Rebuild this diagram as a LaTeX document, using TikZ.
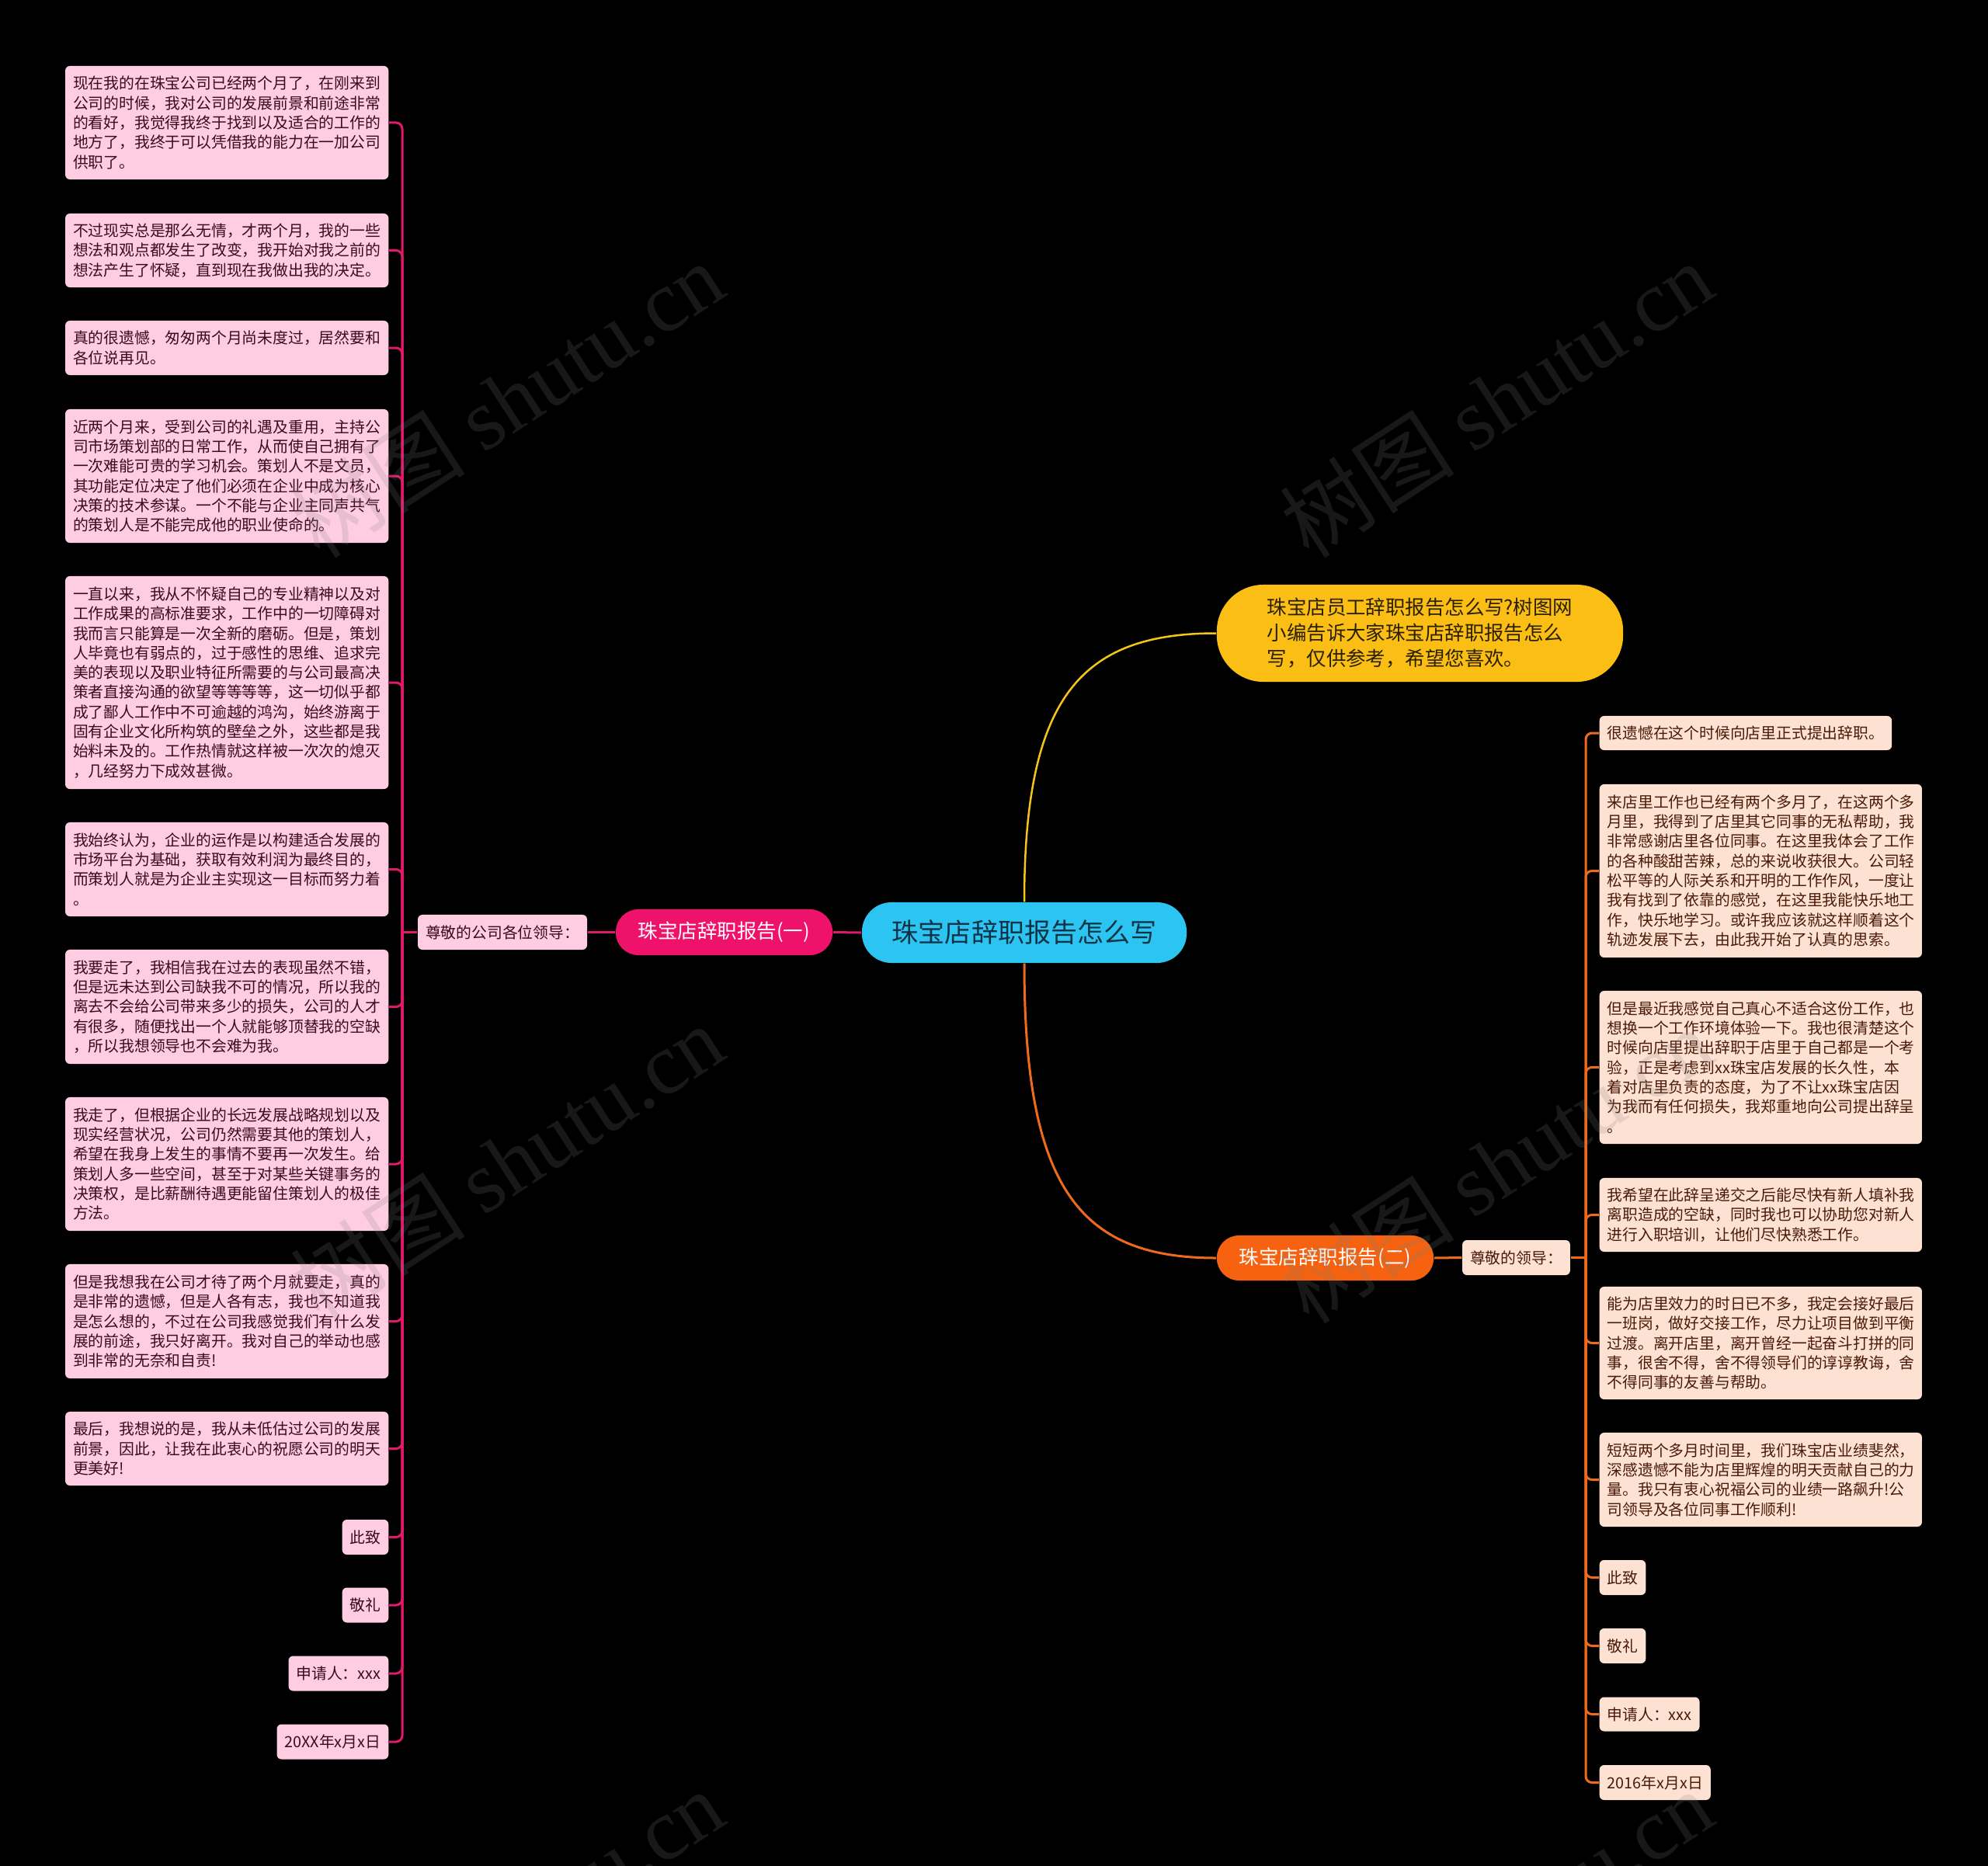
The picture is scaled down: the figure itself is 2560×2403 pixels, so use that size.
\documentclass[tikz,border=0pt]{standalone}
\usepackage{fontspec}
\setmainfont{Noto Sans CJK SC}
\newfontfamily\wmlatin{Liberation Serif}
\definecolor{cyanC}{HTML}{2CC4F0}
\definecolor{cyanT}{HTML}{0F3347}
\definecolor{pinkB}{HTML}{EE126B}
\definecolor{pinkL}{HTML}{FFCDE1}
\definecolor{pinkT}{HTML}{3A0A1F}
\definecolor{pinkLine}{HTML}{E2196B}
\definecolor{yelB}{HTML}{FBBE14}
\definecolor{yelT}{HTML}{2A2000}
\definecolor{yelLine}{HTML}{F5C518}
\definecolor{orB}{HTML}{F6620F}
\definecolor{orL}{HTML}{FDE1D2}
\definecolor{orT}{HTML}{4A1A08}
\definecolor{orLine}{HTML}{EE6A1C}
\newcommand\lffont{\fontsize{5.63pt}{7.2pt}\selectfont}
\tikzset{
  leafL/.style={fill=pinkL, text=pinkT, rounded corners=0.06cm, inner xsep=0.1cm, inner ysep=0.03cm, font=\lffont, anchor=east},
  wideL/.style={leafL, text width=3.96cm, align=left},
  leafR/.style={fill=orL, text=orT, rounded corners=0.06cm, inner xsep=0.1cm, inner ysep=0.03cm, font=\lffont, anchor=west},
  wideR/.style={leafR, text width=3.95cm, align=left},
  lline/.style={draw=pinkLine, line width=0.03cm},
  rline/.style={draw=orLine, line width=0.03cm},
  wm/.style={rotate=33, text=gray, opacity=0.19, font=\fontsize{32pt}{32pt}\selectfont},
}
\begin{document}
\begin{tikzpicture}[x=0.01cm,y=-0.01cm]
\useasboundingbox (0,0) rectangle (2560,2403);
\fill[black] (0,0) rectangle (2560,2403);

% main nodes
\node[fill=cyanC, text=cyanT, rounded corners=0.38cm, minimum width=4.18cm, minimum height=0.78cm, inner sep=0pt, font=\fontsize{9.67pt}{11pt}\selectfont] (center) at (1319,1201) {珠宝店辞职报告怎么写};
\node[fill=pinkB, text=white, rounded corners=0.29cm, minimum width=2.79cm, minimum height=0.59cm, inner sep=0pt, font=\fontsize{7.25pt}{9pt}\selectfont] (b1) at (932.5,1200.5) {珠宝店辞职报告(一)};
\node[fill=orB, text=white, rounded corners=0.285cm, minimum width=2.79cm, minimum height=0.58cm, inner sep=0pt, font=\fontsize{7.25pt}{9pt}\selectfont] (b2) at (1706.5,1620) {珠宝店辞职报告(二)};
\node[fill=yelB, text=yelT, rounded corners=0.6cm, minimum width=5.23cm, minimum height=1.25cm, inner sep=0pt, align=left, font=\fontsize{7.23pt}{9.39pt}\selectfont] (yel) at (1828.5,815.5) {珠宝店员工辞职报告怎么写?树图网\\小编告诉大家珠宝店辞职报告怎么\\写，仅供参考，希望您喜欢。};
\node[leafL, anchor=center, minimum height=0.45cm] (lz) at (647,1200.5) {尊敬的公司各位领导：};
\node[leafR, anchor=center, minimum height=0.45cm] (rz) at (1952.5,1619.5) {尊敬的领导：};

% left leaves
\node[wideL, minimum height=1.46cm] (L1) at (501,158) {现在我的在珠宝公司已经两个月了，在刚来到\\公司的时候，我对公司的发展前景和前途非常\\的看好，我觉得我终于找到以及适合的工作的\\地方了，我终于可以凭借我的能力在一加公司\\供职了。};
\node[wideL, minimum height=0.95cm] (L2) at (501,322.5) {不过现实总是那么无情，才两个月，我的一些\\想法和观点都发生了改变，我开始对我之前的\\想法产生了怀疑，直到现在我做出我的决定。};
\node[wideL, minimum height=0.70cm] (L3) at (501,448) {真的很遗憾，匆匆两个月尚未度过，居然要和\\各位说再见。};
\node[wideL, minimum height=1.72cm] (L4) at (501,613) {近两个月来，受到公司的礼遇及重用，主持公\\司市场策划部的日常工作，从而使自己拥有了\\一次难能可贵的学习机会。策划人不是文员，\\其功能定位决定了他们必须在企业中成为核心\\决策的技术参谋。一个不能与企业主同声共气\\的策划人是不能完成他的职业使命的。};
\node[wideL, minimum height=2.74cm] (L5) at (501,879) {一直以来，我从不怀疑自己的专业精神以及对\\工作成果的高标准要求，工作中的一切障碍对\\我而言只能算是一次全新的磨砺。但是，策划\\人毕竟也有弱点的，过于感性的思维、追求完\\美的表现以及职业特征所需要的与公司最高决\\策者直接沟通的欲望等等等等，这一切似乎都\\成了鄙人工作中不可逾越的鸿沟，始终游离于\\固有企业文化所构筑的壁垒之外，这些都是我\\始料未及的。工作热情就这样被一次次的熄灭\\，几经努力下成效甚微。};
\node[wideL, minimum height=1.21cm] (L6) at (501,1119.5) {我始终认为，企业的运作是以构建适合发展的\\市场平台为基础，获取有效利润为最终目的，\\而策划人就是为企业主实现这一目标而努力着\\。};
\node[wideL, minimum height=1.47cm] (L7) at (501,1296.5) {我要走了，我相信我在过去的表现虽然不错，\\但是远未达到公司缺我不可的情况，所以我的\\离去不会给公司带来多少的损失，公司的人才\\有很多，随便找出一个人就能够顶替我的空缺\\，所以我想领导也不会难为我。};
\node[wideL, minimum height=1.72cm] (L8) at (501,1499) {我走了，但根据企业的长远发展战略规划以及\\现实经营状况，公司仍然需要其他的策划人，\\希望在我身上发生的事情不要再一次发生。给\\策划人多一些空间，甚至于对某些关键事务的\\决策权，是比薪酬待遇更能留住策划人的极佳\\方法。};
\node[wideL, minimum height=1.47cm] (L9) at (501,1701.5) {但是我想我在公司才待了两个月就要走，真的\\是非常的遗憾，但是人各有志，我也不知道我\\是怎么想的，不过在公司我感觉我们有什么发\\展的前途，我只好离开。我对自己的举动也感\\到非常的无奈和自责!};
\node[wideL, minimum height=0.95cm] (L10) at (501,1865.5) {最后，我想说的是，我从未低估过公司的发展\\前景，因此，让我在此衷心的祝愿公司的明天\\更美好!};
\node[leafL, minimum height=0.45cm] (L11) at (501,1979.5) {此致};
\node[leafL, minimum height=0.45cm] (L12) at (501,2067) {敬礼};
\node[leafL, minimum height=0.45cm] (L13) at (501,2155) {申请人：xxx};
\node[leafL, minimum height=0.45cm] (L14) at (501,2243) {20XX年x月x日};

% right leaves
\node[leafR, minimum height=0.44cm] (R1) at (2059,944) {很遗憾在这个时候向店里正式提出辞职。};
\node[wideR, minimum height=2.23cm] (R2) at (2059,1121.5) {来店里工作也已经有两个多月了，在这两个多\\月里，我得到了店里其它同事的无私帮助，我\\非常感谢店里各位同事。在这里我体会了工作\\的各种酸甜苦辣，总的来说收获很大。公司轻\\松平等的人际关系和开明的工作作风，一度让\\我有找到了依靠的感觉，在这里我能快乐地工\\作，快乐地学习。或许我应该就这样顺着这个\\轨迹发展下去，由此我开始了认真的思索。};
\node[wideR, minimum height=1.97cm] (R3) at (2059,1374.5) {但是最近我感觉自己真心不适合这份工作，也\\想换一个工作环境体验一下。我也很清楚这个\\时候向店里提出辞职于店里于自己都是一个考\\验，正是考虑到xx珠宝店发展的长久性，本\\着对店里负责的态度，为了不让xx珠宝店因\\为我而有任何损失，我郑重地向公司提出辞呈\\。};
\node[wideR, minimum height=0.95cm] (R4) at (2059,1564.5) {我希望在此辞呈递交之后能尽快有新人填补我\\离职造成的空缺，同时我也可以协助您对新人\\进行入职培训，让他们尽快熟悉工作。};
\node[wideR, minimum height=1.45cm] (R5) at (2059,1729.5) {能为店里效力的时日已不多，我定会接好最后\\一班岗，做好交接工作，尽力让项目做到平衡\\过渡。离开店里，离开曾经一起奋斗打拼的同\\事，很舍不得，舍不得领导们的谆谆教诲，舍\\不得同事的友善与帮助。};
\node[wideR, minimum height=1.21cm] (R6) at (2059,1905.5) {短短两个多月时间里，我们珠宝店业绩斐然，\\深感遗憾不能为店里辉煌的明天贡献自己的力\\量。我只有衷心祝福公司的业绩一路飙升!公\\司领导及各位同事工作顺利!};
\node[leafR, minimum height=0.45cm] (R7) at (2059,2031.5) {此致};
\node[leafR, minimum height=0.45cm] (R8) at (2059,2119.5) {敬礼};
\node[leafR, minimum height=0.44cm] (R9) at (2059,2207.5) {申请人：xxx};
\node[leafR, minimum height=0.45cm] (R10) at (2059,2295.5) {2016年x月x日};

% connectors
\draw[pinkLine, line width=0.03cm] (center.west) -- (b1.east);
\draw[pinkLine, line width=0.03cm] (b1.west) -- (lz.east);
\draw[yelLine, line width=0.025cm] (center.north) .. controls (1319,900) and (1390,815.5) .. (yel.west);
\draw[orLine, line width=0.03cm] (center.south) .. controls (1319,1530) and (1390,1620) .. (b2.west);
\draw[orLine, line width=0.03cm] (b2.east) -- (rz.west);

\coordinate (lj) at (518,1200.5);
\draw[lline] (lz.west) -- (lj);
\foreach \n in {L1,L2,L3,L4,L5,L6,L7,L8,L9,L10,L11,L12,L13,L14}
  \draw[lline, rounded corners=0.08cm] (lj) |- (\n.east);

\coordinate (rj) at (2042,1619.5);
\draw[rline] (rz.east) -- (rj);
\foreach \n in {R1,R2,R3,R4,R5,R6,R7,R8,R9,R10}
  \draw[rline, rounded corners=0.08cm] (rj) |- (\n.west);

% watermarks
\begin{scope}
\clip (0,0) rectangle (2560,2403);
\foreach \p in {(653,514),(1927,514),(653,1496),(1927,1500),(653,2482),(1927,2482)}
  \node[wm] at \p {树图 {\wmlatin shutu.cn}};
\end{scope}
\end{tikzpicture}
\end{document}
